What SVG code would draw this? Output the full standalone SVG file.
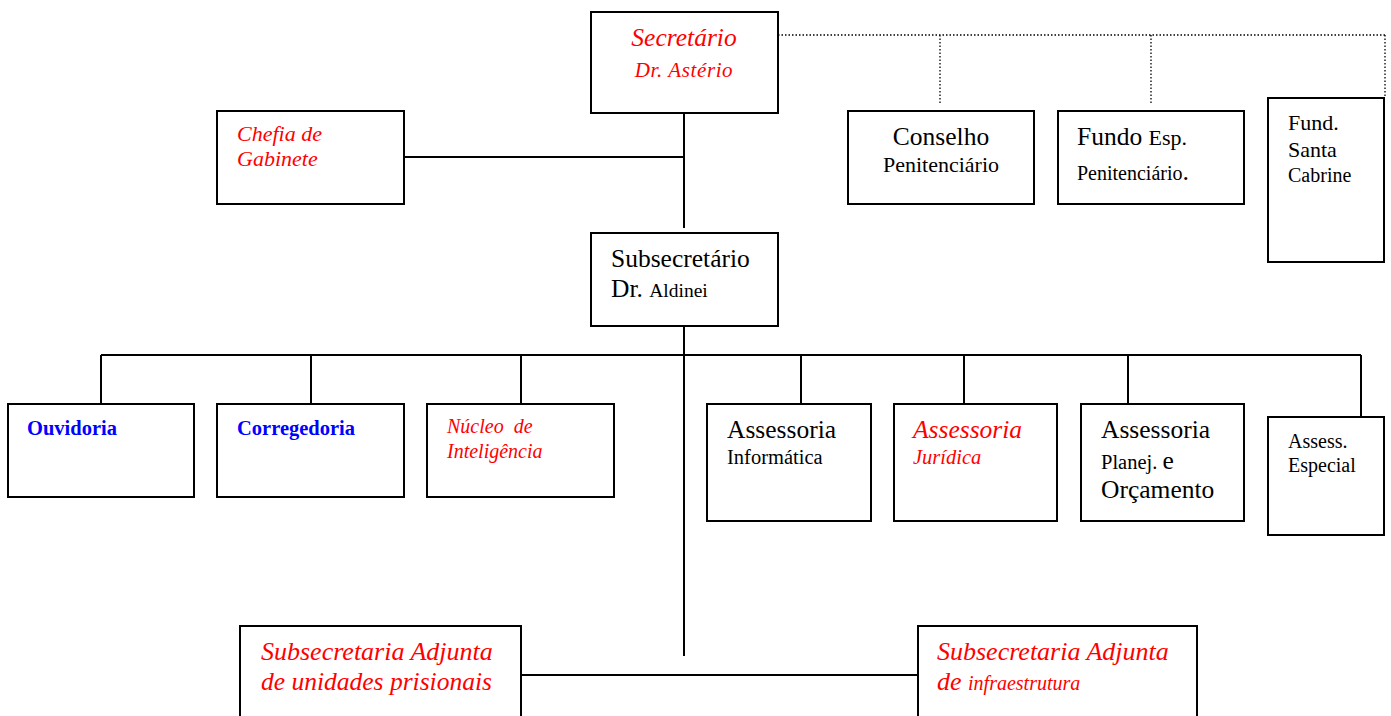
<svg xmlns="http://www.w3.org/2000/svg" width="1391" height="716" viewBox="0 0 1391 716">
<style>
.box{fill:#fff;stroke:#000;stroke-width:2}
.ln{stroke:#000;stroke-width:2;fill:none}
.dot{stroke:#000;stroke-width:1.3;stroke-dasharray:1.5 2;fill:none}
.red{fill:#ff0000;font-style:italic}
.blue{fill:#0000ff;font-weight:bold}
</style>
<rect width="1391" height="716" fill="#fff"/>
<g id="connectors">
<path class="dot" d="M778 35H1385M940 35V105M1151 35V105M1385 35V98"/>
<path class="ln" d="M684 113V228M404 157H684M684 326V656M101 355H1361M101 355V403M311 355V403M521 355V403M801 355V403M964 355V403M1128 355V403M1361 355V416M521 675H918"/>
</g>
<g id="secretario"><rect class="box" x="591" y="12" width="187" height="101"/>
<text font-family="Liberation Serif" class="red" x="684" y="46" font-size="25.5" text-anchor="middle">Secretário</text>
<text font-family="Liberation Serif" class="red" x="684" y="77" font-size="21" text-anchor="middle" letter-spacing="0.6">Dr. Astério</text></g>
<g id="conselho"><rect class="box" x="848" y="111" width="186" height="93"/>
<text font-family="Liberation Serif" x="941" y="145" font-size="25.5" text-anchor="middle">Conselho</text>
<text font-family="Liberation Serif" x="941" y="172" font-size="22" text-anchor="middle">Penitenciário</text></g>
<g id="fundo"><rect class="box" x="1058" y="111" width="186" height="93"/>
<text font-family="Liberation Serif" x="1077" y="145" font-size="25.5">Fundo <tspan font-size="22">Esp.</tspan></text>
<text font-family="Liberation Serif" x="1077" y="180" font-size="20">Penitenciário<tspan font-size="26">.</tspan></text></g>
<g id="fundsanta"><rect class="box" x="1268" y="98" width="116" height="164"/>
<text font-family="Liberation Serif" x="1288" y="130" font-size="22">Fund.</text>
<text font-family="Liberation Serif" x="1288" y="157" font-size="22">Santa</text>
<text font-family="Liberation Serif" x="1288" y="182" font-size="20">Cabrine</text></g>
<g id="chefia"><rect class="box" x="217" y="111" width="187" height="93"/>
<text font-family="Liberation Serif" class="red" x="237" y="141" font-size="22" xml:space="preserve">Chefia de</text>
<text font-family="Liberation Serif" class="red" x="237" y="166" font-size="22">Gabinete</text></g>
<g id="subsecretario"><rect class="box" x="591" y="233" width="187" height="93"/>
<text font-family="Liberation Serif" x="611" y="267" font-size="25.5">Subsecretário</text>
<text font-family="Liberation Serif" x="611" y="297" font-size="25.5">Dr. <tspan font-size="19.5">Aldinei</tspan></text></g>
<g id="ouvidoria"><rect class="box" x="8" y="404" width="186" height="93"/>
<text font-family="Liberation Serif" class="blue" x="27" y="435" font-size="20.5">Ouvidoria</text></g>
<g id="corregedoria"><rect class="box" x="217" y="404" width="187" height="93"/>
<text font-family="Liberation Serif" class="blue" x="237" y="435" font-size="20.5">Corregedoria</text></g>
<g id="nucleo"><rect class="box" x="427" y="404" width="187" height="93"/>
<text font-family="Liberation Serif" class="red" x="447" y="433" font-size="20" xml:space="preserve">Núcleo  de</text>
<text font-family="Liberation Serif" class="red" x="447" y="458" font-size="20">Inteligência</text></g>
<g id="assinfo"><rect class="box" x="707" y="404" width="164" height="117"/>
<text font-family="Liberation Serif" x="727" y="438" font-size="25.5">Assessoria</text>
<text font-family="Liberation Serif" x="727" y="464" font-size="20.5">Informática</text></g>
<g id="assjur"><rect class="box" x="894" y="404" width="163" height="117"/>
<text font-family="Liberation Serif" class="red" x="913" y="438" font-size="25.5">Assessoria</text>
<text font-family="Liberation Serif" class="red" x="913" y="464" font-size="20.5">Jurídica</text></g>
<g id="assplan"><rect class="box" x="1081" y="404" width="163" height="117"/>
<text font-family="Liberation Serif" x="1101" y="438" font-size="25.5">Assessoria</text>
<text font-family="Liberation Serif" x="1101" y="469" font-size="20.5">Planej. <tspan font-size="25.5">e</tspan></text>
<text font-family="Liberation Serif" x="1101" y="498" font-size="25.5">Orçamento</text></g>
<g id="assesp"><rect class="box" x="1268" y="417" width="116" height="118"/>
<text font-family="Liberation Serif" x="1288" y="448" font-size="20">Assess.</text>
<text font-family="Liberation Serif" x="1288" y="472" font-size="20">Especial</text></g>
<g id="subadjprisional"><rect class="box" x="240" y="626" width="281" height="100"/>
<text font-family="Liberation Serif" class="red" x="261" y="660" font-size="26">Subsecretaria Adjunta</text>
<text font-family="Liberation Serif" class="red" x="261" y="690" font-size="25.5">de unidades prisionais</text></g>
<g id="subadjinfra"><rect class="box" x="918" y="626" width="279" height="100"/>
<text font-family="Liberation Serif" class="red" x="937" y="660" font-size="26">Subsecretaria Adjunta</text>
<text font-family="Liberation Serif" class="red" x="937" y="690" font-size="26">de <tspan font-size="20">infraestrutura</tspan></text></g>
</svg>
